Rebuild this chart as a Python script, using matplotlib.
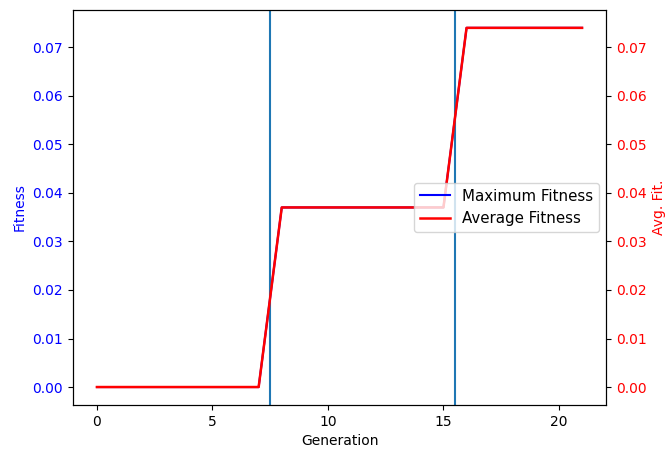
import matplotlib
matplotlib.use("Agg")
import matplotlib.pyplot as plt
import numpy as np

# generation data
generations = np.arange(0, 22)
max_fitness = [0.0] * 8 + [0.037] * 8 + [0.074] * 6
avg_fitness = [0.0] * 8 + [0.037] * 8 + [0.074] * 6
change_points = [7.5, 15.5]

fig, ax1 = plt.subplots(figsize=(6.67, 4.5), dpi=100)
fig.subplots_adjust(left=0.109, right=0.909, top=0.978, bottom=0.1)

l1, = ax1.plot(generations, max_fitness, "b-", label="Maximum Fitness")
ax1.set_xlabel("Generation")
ax1.set_ylabel("Fitness", color="b")
ax1.tick_params(axis="y", labelcolor="b")
for cp in change_points:
    ax1.axvline(cp)

ax2 = ax1.twinx()
l2, = ax2.plot(generations, avg_fitness, "r-", lw=1.8, label="Average Fitness")
ax2.set_ylabel("Avg. Fit.", color="r")
ax2.tick_params(axis="y", labelcolor="r")

ax2.legend([l1, l2], [l1.get_label(), l2.get_label()], loc="center right", fontsize=10.8)

fig.savefig("out.png")
